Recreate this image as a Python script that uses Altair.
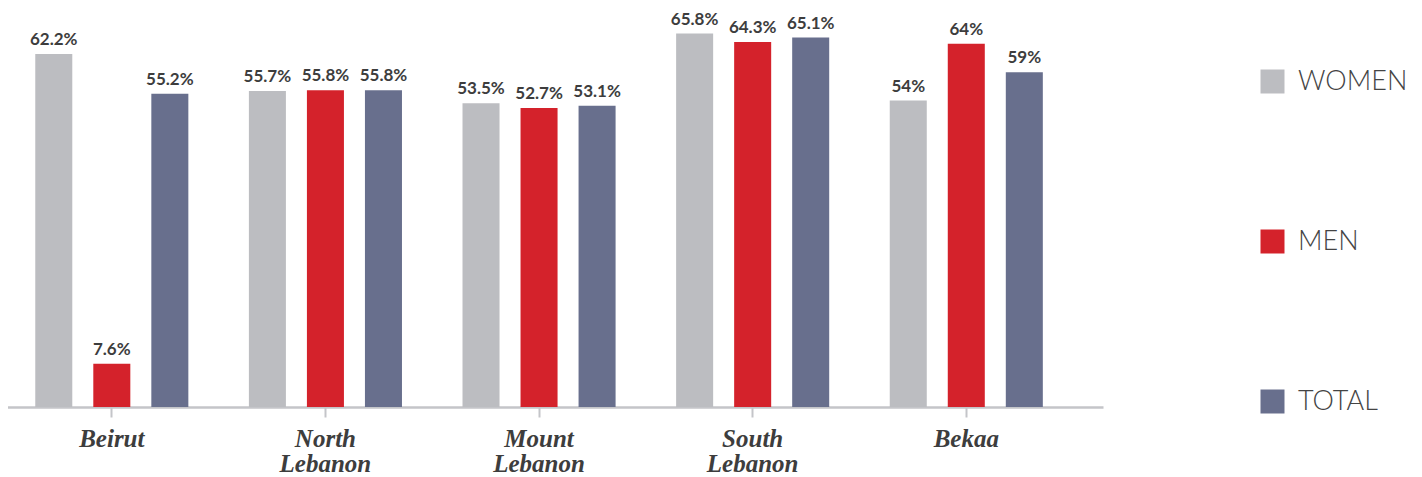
import altair as alt
import pandas as pd

regions = ["Beirut", "North|Lebanon", "Mount|Lebanon", "South|Lebanon", "Bekaa"]
series = ["WOMEN", "MEN", "TOTAL"]
women = [62.2, 55.7, 53.5, 65.8, 54.0]
men = [7.6, 55.8, 52.7, 64.3, 64.0]
total = [55.2, 55.8, 53.1, 65.1, 59.0]
colors = ["#bcbdc1", "#d4222b", "#686f8d"]

rows = []
for s, vals in zip(series, [women, men, total]):
    for r, v in zip(regions, vals):
        rows.append({"region": r, "series": s, "value": v, "label": f"{v:g}%"})
df = pd.DataFrame(rows)

x_enc = alt.X("region:N", sort=regions, title=None,
              scale=alt.Scale(range=[-3, 1095], paddingInner=0, paddingOuter=0.07, align=0),
              axis=alt.Axis(labelAngle=0, labelExpr="split(datum.label, '|')",
                            labelFont="Liberation Serif", labelFontStyle="italic",
                            labelFontWeight="bold", labelFontSize=25, labelColor="#3d3d3d",
                            labelLineHeight=25, labelPadding=9, labelBaseline="top",
                            domainColor="#c4c5c9", domainWidth=2.5,
                            tickColor="#c4c5c9", tickWidth=2, tickSize=10))
xo_enc = alt.XOffset("series:N", sort=series,
                     scale=alt.Scale(paddingInner=0.362, paddingOuter=0.5216))
y_enc = alt.Y("value:Q", axis=None, scale=alt.Scale(domain=[0, 69.6], nice=False))

bars = alt.Chart(df).mark_bar().encode(
    x=x_enc, xOffset=xo_enc, y=y_enc,
    color=alt.Color("series:N", sort=series,
                    scale=alt.Scale(domain=series, range=colors),
                    legend=alt.Legend(title=None, orient="none", legendX=1251, legendY=56,
                                      symbolType="square", symbolSize=576,
                                      symbolStrokeWidth=0, symbolOpacity=1,
                                      labelFont="Lato", labelFontWeight=300,
                                      labelFontSize=27, labelColor="#444444",
                                      labelOffset=12, rowPadding=132, padding=0)),
)

texts = alt.Chart(df).mark_text(baseline="alphabetic", dy=-9, font="Lato",
                                fontWeight="bold", fontSize=17, color="#3d3d3d").encode(
    x=alt.X("region:N", sort=regions), xOffset=alt.XOffset("series:N", sort=series),
    y="value:Q", text="label:N",
)

chart = alt.layer(bars, texts).properties(
    width=1095, height=395,
    autosize=alt.AutoSizeParams(type="none"),
    padding={"left": 0, "top": 4, "right": 310, "bottom": 69},
).configure_view(stroke=None)

chart.save("out.html", embed_options={"renderer": "svg", "actions": False})
